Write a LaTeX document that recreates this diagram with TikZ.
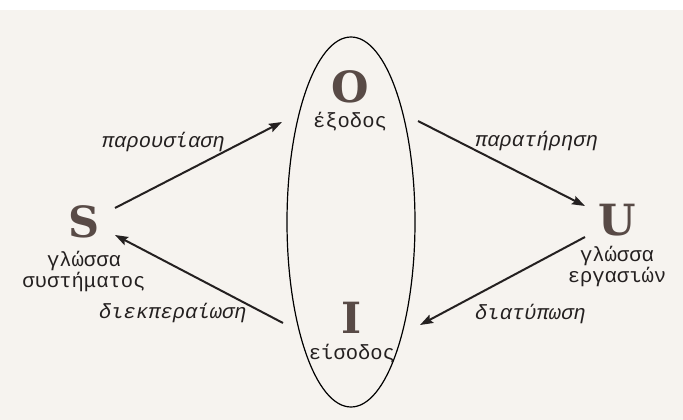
\documentclass[tikz,border=0pt]{standalone}
\usepackage{fontspec}
\newfontfamily\greekmono{Liberation Mono}
\newfontfamily\slabfont{DejaVu Serif}
\usetikzlibrary{arrows.meta,positioning}
\definecolor{inkgray}{RGB}{36,32,32}
\definecolor{letterbrown}{RGB}{88,74,70}
\definecolor{paper}{RGB}{246,243,239}
\tikzset{
  letter node/.style={
    inner sep=0pt, text=letterbrown,
    font=\slabfont\bfseries\fontsize{43}{43}\selectfont
  },
  caption text/.style={
    inner sep=0pt, align=center, text=inkgray,
    font=\greekmono\fontsize{20.5}{18.5}\selectfont
  },
  flow label/.style={
    inner sep=0pt, text=inkgray,
    font=\greekmono\itshape\fontsize{20.5}{20.5}\selectfont
  },
  flow arrow/.style={-{Stealth[length=13pt,width=9pt,inset=2pt]}, line width=2pt, inkgray}
}

\begin{document}
\begin{tikzpicture}[x=1pt, y=-1pt]
    % page
    \fill[white] (0,0) rectangle (683,420);
    \fill[paper] (0,10) rectangle (683,420);
    \useasboundingbox (0,0) rectangle (683,420);

    % the oval holding input and output
    \draw[line width=1.2pt, black] (351,222) ellipse [x radius=64, y radius=185];

    \node[letter node] (system) at (84,222) {S};
    \node[letter node] (output) at (350,87) {O};
    \node[letter node] (work) at (617,220) {U};
    \node[letter node] (input) at (352,318) {I};

    \node[caption text, below=13pt of system] (syscap) {γλώσσα\\συστήματος};
    \node[caption text, below=9pt of output] (outcap) {έξοδος};
    \node[caption text, below=10pt of work] (workcap) {γλώσσα\\εργασιών};
    \node[caption text, below=10pt of input] (incap) {είσοδος};

    \draw[flow arrow] ([shift={(31,-14)}]system.center) -- ([shift={(-68,35)}]output.center)
      node[flow label, pos=0.29, above=30pt] {παρουσίαση};
    \draw[flow arrow] ([shift={(68,34)}]output.center) -- ([shift={(-32,-14)}]work.center)
      node[flow label, pos=0.71, above=30pt] {παρατήρηση};
    \draw[flow arrow] ([shift={(-32,17)}]work.center) -- ([shift={(68,7)}]input.center)
      node[flow label, pos=0.33, below=37pt] {διατύπωση};
    \draw[flow arrow] ([shift={(-69,5)}]input.center) -- ([shift={(31,13)}]system.center)
      node[flow label, pos=0.655, below=37pt] {διεκπεραίωση};
  \end{tikzpicture}
\end{document}
